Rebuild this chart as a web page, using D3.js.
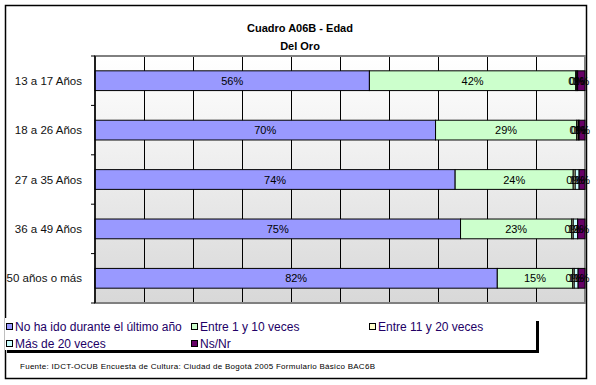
<!DOCTYPE html>
<html>
<head>
<meta charset="utf-8">
<script src="https://cdn.jsdelivr.net/npm/d3@7.9.0/dist/d3.min.js"></script>
<style>
  body { margin: 0; background: #fff; }
  svg { display: block; font-family: "Liberation Sans", Arial, sans-serif; }
</style>
</head>
<body>
<svg id="chart" width="596" height="385"></svg>
<script>
// data (percent)
const categories = ["13 a 17 Años", "18 a 26 Años", "27 a 35 Años", "36 a 49 Años", "50 años o más"];
const seriesNames = ["No ha ido durante el último año", "Entre 1 y 10 veces", "Entre 11 y 20 veces", "Más de 20 veces", "Ns/Nr"];
const noHaIdo   = [56.0, 69.5, 73.5, 74.6, 82.1];
const entre1y10 = [42.1, 28.8, 24.1, 22.7, 15.4];
const entre11y20 = [0.2, 0.3, 0.4, 0.3, 0.3];
const masDe20   = [0.2, 0.2, 0.8, 0.9, 0.8];
const nsNr      = [1.5, 1.2, 1.2, 1.5, 1.4];
const colors = ["#9999ff", "#ccffcc", "#ffffcc", "#ccffff", "#660066"];

const svg = d3.select("#chart");

// outer frame
svg.append("rect").attr("x", 5.5).attr("y", 5.5).attr("width", 581).attr("height", 373)
  .attr("fill", "#fff").attr("stroke", "#000").attr("stroke-width", 1.5);

// title
svg.append("text").attr("x", 300).attr("y", 32).attr("text-anchor", "middle")
  .attr("font-size", 11).attr("font-weight", "bold").text("Cuadro A06B - Edad");
svg.append("text").attr("x", 300).attr("y", 50).attr("text-anchor", "middle")
  .attr("font-size", 11).attr("font-weight", "bold").text("Del Oro");

const pLeft = 95, pRight = 585, pTop = 56, pBottom = 303;

const x = d3.scaleLinear().domain([0, 100]).range([pLeft, pRight]);
const y = d3.scaleBand().domain(categories).range([pTop, pBottom]).paddingInner(0.6).paddingOuter(0.3);

// plot background gradient
const grad = svg.append("defs").append("linearGradient").attr("id", "bg")
  .attr("x1", 0).attr("y1", 0).attr("x2", 0).attr("y2", 1);
grad.append("stop").attr("offset", "0%").attr("stop-color", "#ffffff");
grad.append("stop").attr("offset", "100%").attr("stop-color", "#d8d8d8");
svg.append("rect").attr("x", pLeft).attr("y", pTop).attr("width", pRight - pLeft).attr("height", pBottom - pTop)
  .attr("fill", "url(#bg)");

// vertical gridlines
svg.append("g").selectAll("line").data(d3.range(10, 100, 10)).join("line")
  .attr("x1", d => x(d)).attr("x2", d => x(d)).attr("y1", pTop).attr("y2", pBottom)
  .attr("stroke", "#000").attr("stroke-width", 1).attr("shape-rendering", "crispEdges");

// plot border (grey top / right / bottom)
svg.append("rect").attr("x", pLeft).attr("y", pTop).attr("width", pRight - pLeft).attr("height", pBottom - pTop)
  .attr("fill", "none").attr("stroke", "#808080").attr("stroke-width", 1.5).attr("shape-rendering", "crispEdges");

// stacked bars
const table = categories.map((c, i) => ({
  cat: c,
  [seriesNames[0]]: noHaIdo[i],
  [seriesNames[1]]: entre1y10[i],
  [seriesNames[2]]: entre11y20[i],
  [seriesNames[3]]: masDe20[i],
  [seriesNames[4]]: nsNr[i]
}));
const stacked = d3.stack().keys(seriesNames)(table);

const groups = svg.append("g").selectAll("g").data(stacked).join("g")
  .attr("fill", (d, i) => colors[i]);
groups.selectAll("rect").data(d => d).join("rect")
  .attr("x", d => x(d[0])).attr("width", d => x(d[1]) - x(d[0]))
  .attr("y", d => y(d.data.cat)).attr("height", y.bandwidth())
  .attr("stroke", "#000").attr("stroke-width", 1);

// percentage labels
const labels = svg.append("g").attr("font-size", 11).attr("text-anchor", "middle");
stacked.forEach(s => {
  s.forEach(d => {
    labels.append("text")
      .attr("x", (x(d[0]) + x(d[1])) / 2)
      .attr("y", y(d.data.cat) + y.bandwidth() / 2 + 4)
      .text(Math.round(d[1] - d[0]) + "%");
  });
});

// y axis
const yAxis = svg.append("g").attr("transform", `translate(${pLeft},0)`);
yAxis.append("line").attr("x1", 0).attr("x2", 0).attr("y1", pTop).attr("y2", pBottom)
  .attr("stroke", "#000").attr("stroke-width", 1.5);
yAxis.selectAll(".tk").data(d3.range(categories.length + 1)).join("line")
  .attr("x1", -4).attr("x2", 0)
  .attr("y1", i => pTop + i * (pBottom - pTop) / categories.length)
  .attr("y2", i => pTop + i * (pBottom - pTop) / categories.length)
  .attr("stroke", "#000");
yAxis.selectAll("text").data(categories).join("text")
  .attr("x", -13).attr("y", d => y(d) + y.bandwidth() / 2 + 4)
  .attr("text-anchor", "end").attr("font-size", 11.5).attr("fill", "#111").text(d => d);

// legend box with shadow
svg.append("rect").attr("x", 7).attr("y", 321).attr("width", 532).attr("height", 32).attr("fill", "#000");
svg.append("rect").attr("x", 5).attr("y", 318).attr("width", 531).attr("height", 32).attr("fill", "#fff");
const legendPos = [[6, 327], [191, 327], [369, 327], [6, 344], [191, 344]];
const legend = svg.append("g").selectAll("g").data(seriesNames).join("g")
  .attr("transform", (d, i) => `translate(${legendPos[i][0]},${legendPos[i][1]})`);
legend.append("rect").attr("x", 0.5).attr("y", -3.5).attr("width", 6).attr("height", 6)
  .attr("fill", (d, i) => colors[i]).attr("stroke", "#000").attr("stroke-width", 1);
legend.append("text").attr("x", 9).attr("y", 4).attr("font-size", 12).attr("fill", "#220066").text(d => d);

// source
svg.append("text").attr("x", 20).attr("y", 369).attr("font-size", 8)
  .attr("textLength", 355).attr("lengthAdjust", "spacing")
  .text("Fuente: IDCT-OCUB Encuesta de Cultura: Ciudad de Bogotá 2005 Formulario Básico BAC6B");
</script>
</body>
</html>
